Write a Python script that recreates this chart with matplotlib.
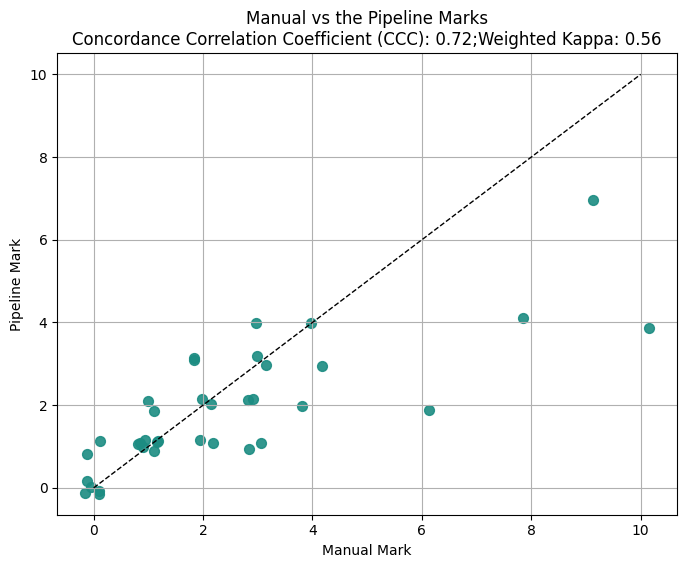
import matplotlib
matplotlib.use('Agg')
import matplotlib.pyplot as plt

# manual vs pipeline marks
manual_marks = [-0.13, -0.13, -0.15, 0.09, 0.10, -0.04, 0.12,
                0.81, 0.84, 0.94, 0.91, 1.10, 1.17, 1.15, 0.99, 1.11,
                1.83, 1.84, 1.98, 2.14, 1.95, 2.19, 2.84, 3.06, 2.82, 2.92,
                2.98, 3.15, 3.80, 4.18, 2.96, 3.97,
                6.13, 7.85, 9.13, 10.15]
pipeline_marks = [0.82, 0.17, -0.12, -0.08, -0.14, 0.03, 1.13,
                  1.06, 1.08, 1.16, 0.99, 0.90, 1.14, 1.11, 2.10, 1.87,
                  3.08, 3.15, 2.16, 2.03, 1.15, 1.08, 0.94, 1.08, 2.12, 2.16,
                  3.18, 2.96, 1.98, 2.94, 3.99, 3.99,
                  1.88, 4.10, 6.96, 3.86]
ref_line = [0, 10]

ccc = 0.72
kappa = 0.56

fig = plt.figure(figsize=(6.86, 5.68), dpi=100)
ax = fig.add_subplot(111)
ax.scatter(manual_marks, pipeline_marks, s=50, color='#1c8c82', alpha=0.9)
ax.plot(ref_line, ref_line, 'k--', linewidth=1)
ax.set_xlabel('Manual Mark')
ax.set_ylabel('Pipeline Mark')
ax.set_title('Manual vs the Pipeline Marks\n'
             'Concordance Correlation Coefficient (CCC): %.2f;Weighted Kappa: %.2f' % (ccc, kappa))
ax.grid(True)
fig.subplots_adjust(left=0.0835, right=0.987, bottom=0.094, top=0.906)
fig.savefig('out.png', dpi=100)
